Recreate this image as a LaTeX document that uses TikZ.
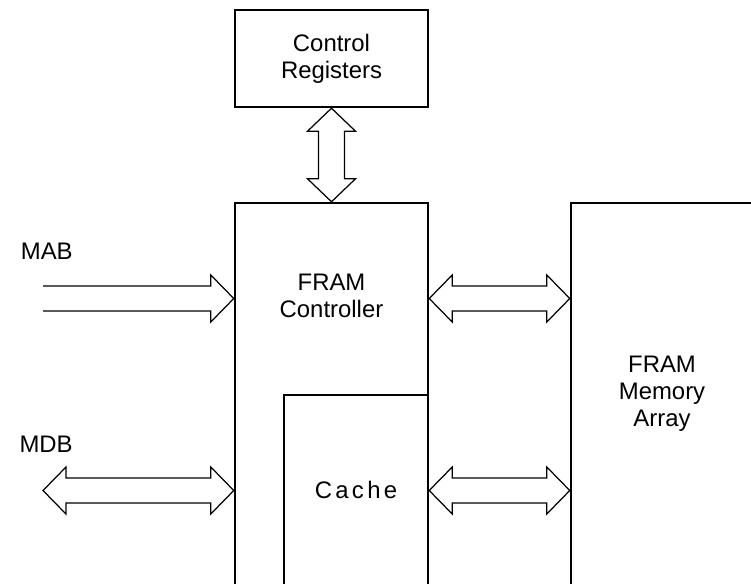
\documentclass[tikz,border=0pt]{standalone}
\usepackage{fontspec}
\setmainfont{Liberation Sans}
\newfontfamily\widefont[LetterSpace=14]{Liberation Sans}
\usepackage{tikz}
\usetikzlibrary{positioning,calc}

\newcommand{\labelfont}{\fontsize{13.6}{15.4}\selectfont}

\begin{document}
\begin{tikzpicture}[
    blk/.style={rectangle, draw, line width=1.4pt, inner sep=0pt, align=center, font=\labelfont},
    txt/.style={align=center, inner sep=0pt, font=\labelfont},
    bus/.style={draw, line width=0.7pt},
    % hollow bus arrows, head at both ends / at the target only
    hbus/.style={bus, to path={-- ($(\tikztostart)+(0.46,0.47)$) -- ($(\tikztostart)+(0.46,0.25)$)
        -- ($(\tikztotarget)+(-0.46,0.25)$) -- ($(\tikztotarget)+(-0.46,0.47)$) -- (\tikztotarget)
        -- ($(\tikztotarget)+(-0.46,-0.47)$) -- ($(\tikztotarget)+(-0.46,-0.25)$)
        -- ($(\tikztostart)+(0.46,-0.25)$) -- ($(\tikztostart)+(0.46,-0.47)$) -- cycle}},
    sbus/.style={bus, to path={($(\tikztostart)+(0,0.25)$)
        -- ($(\tikztotarget)+(-0.46,0.25)$) -- ($(\tikztotarget)+(-0.46,0.47)$) -- (\tikztotarget)
        -- ($(\tikztotarget)+(-0.46,-0.47)$) -- ($(\tikztotarget)+(-0.46,-0.25)$)
        -- ($(\tikztostart)+(0,-0.25)$)}},
    vbus/.style={bus, to path={-- ($(\tikztostart)+(0.48,-0.46)$) -- ($(\tikztostart)+(0.26,-0.46)$)
        -- ($(\tikztotarget)+(0.26,0.46)$) -- ($(\tikztotarget)+(0.48,0.46)$) -- (\tikztotarget)
        -- ($(\tikztotarget)+(-0.48,0.46)$) -- ($(\tikztotarget)+(-0.26,0.46)$)
        -- ($(\tikztostart)+(-0.26,-0.46)$) -- ($(\tikztostart)+(-0.48,-0.46)$) -- cycle}}
]
    \useasboundingbox (0,0) rectangle (15.02,-11.66);
    \clip (0,0) rectangle (15.02,-11.66);

    % boxes
    \node[blk, minimum width=3.86cm, minimum height=1.94cm] (regs) at (6.63,-1.17) {Control\\Registers};
    \node[blk, minimum width=3.86cm, minimum height=7.64cm] (ctrl) at (6.63,-7.88) {};
    \node[txt] (ctrltext) at (6.63,-5.92) {FRAM\\Controller};
    \node[blk, minimum width=2.88cm, minimum height=3.8cm] (cache) at (7.12,-9.8) {\widefont Cache};
    \node[blk, minimum width=3.64cm, minimum height=7.64cm] (mem) at (13.24,-7.88) {FRAM\\Memory\\Array};

    % bus labels and free ends
    \node[txt, anchor=base east] (mab) at (1.46,-5.18) {MAB};
    \node[txt, anchor=base east] (mdb) at (1.46,-9.04) {MDB};
    \coordinate (mabin) at (0.86,-5.97);
    \coordinate (mdbin) at (0.86,-9.81);

    % buses
    \draw[vbus] (regs.south) to (ctrl.north);
    \draw[sbus] (mabin) to (ctrl.west |- mabin);
    \draw[hbus] (mdbin) to (ctrl.west |- mdbin);
    \draw[hbus] (ctrl.east |- mabin) to (mem.west |- mabin);
    \draw[hbus] (cache.east |- mdbin) to (mem.west |- mdbin);
\end{tikzpicture}
\end{document}
